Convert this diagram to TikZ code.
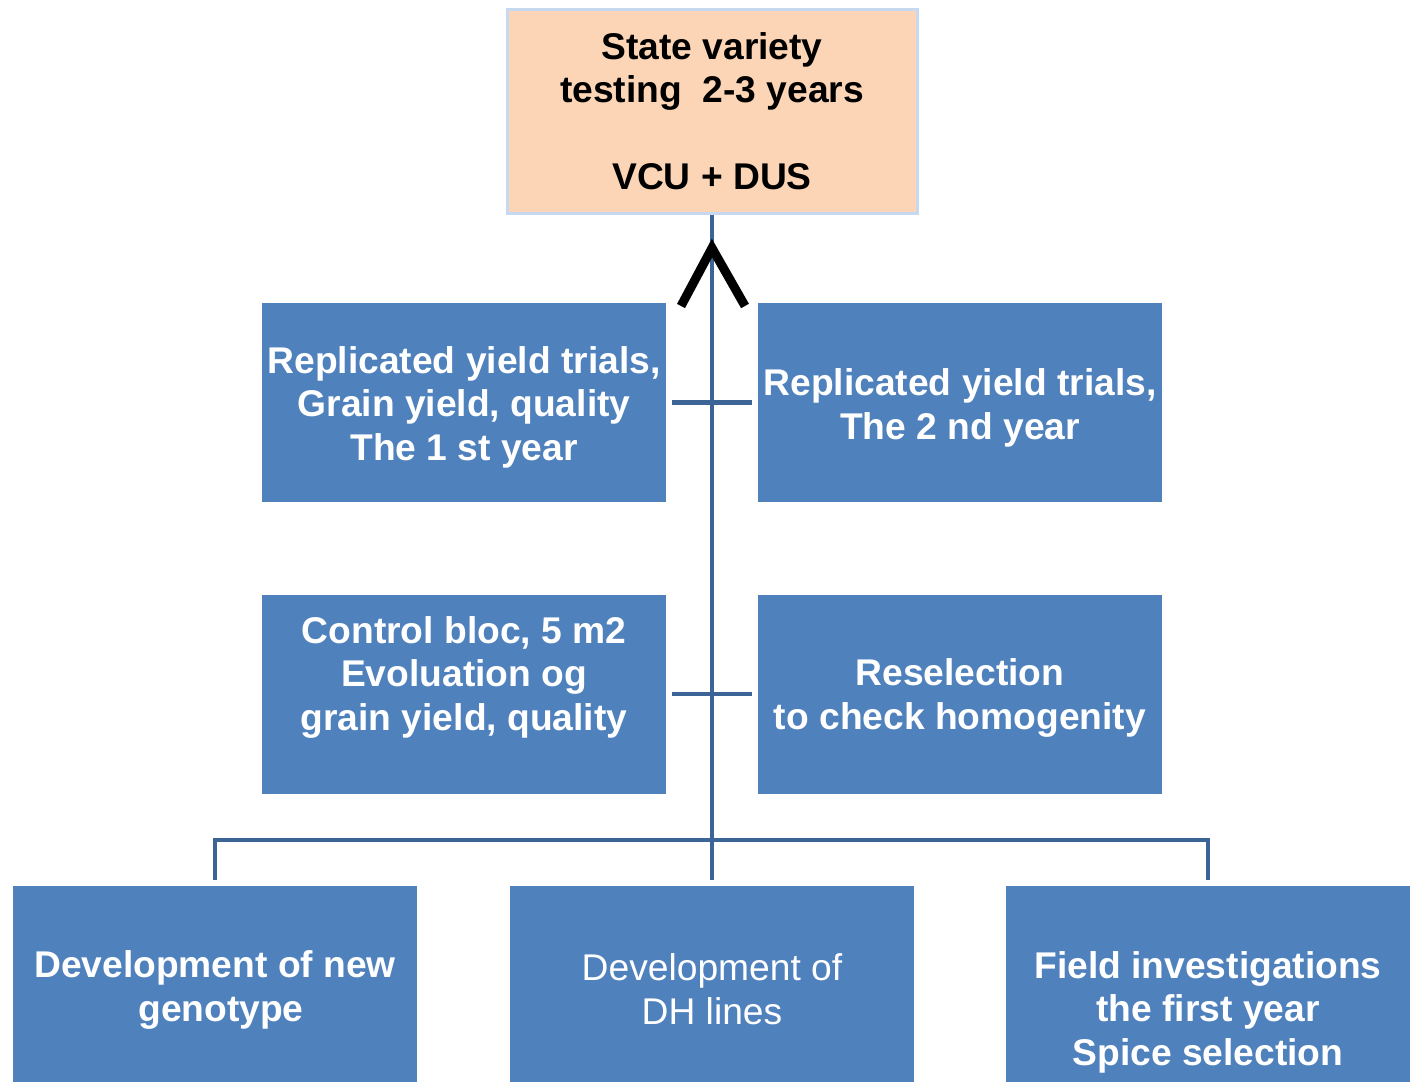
\documentclass[tikz,border=0pt]{standalone}
\usepackage{fontspec}
\setmainfont{Liberation Sans}
\definecolor{boxblue}{RGB}{79,129,189}
\definecolor{peach}{RGB}{251,213,181}
\definecolor{peachedge}{RGB}{198,217,241}
\definecolor{connblue}{RGB}{60,100,150}
\begin{document}
\begin{tikzpicture}[x=0.5pt,y=-0.5pt,
  bluebox/.style={fill=boxblue, draw=none, inner sep=0pt, minimum width=202pt, minimum height=99.5pt},
  topbox/.style={fill=peach, draw=peachedge, line width=1.5pt, inner sep=0pt, minimum width=205pt, minimum height=102pt},
  lbl/.style={inner sep=0pt, align=center, text=white, font=\fontsize{18.6}{21.75}\selectfont\bfseries},
  lblthin/.style={inner sep=0pt, align=center, text=white, font=\fontsize{18.6}{21.75}\selectfont},
  conn/.style={draw=connblue, line width=2.3pt},
  chev/.style={draw=black, line width=4.5pt, line join=miter}]
\useasboundingbox (0,0) rectangle (1418,1082);
% boxes
\node[topbox] (top) at (712,111.5) {};
\node[bluebox] (r1l) at (464,402.5) {};
\node[bluebox] (r1r) at (960,402.5) {};
\node[bluebox] (r2l) at (464,694) {};
\node[bluebox] (r2r) at (960,694) {};
\node[bluebox, minimum height=98pt] (b1) at (215,984) {};
\node[bluebox, minimum height=98pt] (b2) at (712,984) {};
\node[bluebox, minimum height=98pt] (b3) at (1208,984) {};
% connectors
\coordinate (bar) at (712,840);
\draw[conn] ([yshift=3pt]b2.north) -- (top.south);
\draw[conn] ([yshift=3pt]b1.north) |- (bar) -| ([yshift=3pt]b3.north);
\draw[conn] ([xshift=3pt]r1l.east) -- ([xshift=-3pt]r1r.west);
\draw[conn] ([xshift=3pt]r2l.east) -- ([xshift=-3pt]r2r.west);
\coordinate (tip) at (712,248);
\draw[chev] (681,306) -- (tip) -- (745,306);
% texts
\node[lbl, text=black] (ttop) at (712,111) {State variety\\testing\ \ 2-3 years\\[21.75pt]VCU + DUS};
\node[lbl] (tr1l) at (464,407) {Replicated yield trials,\\Grain yield, quality\\The 1 st year};
\node[lbl] (tr1r) at (960,408) {Replicated yield trials,\\The 2 nd year};
\node[lbl] (tr2l) at (464,677) {Control bloc, 5 m2\\Evoluation og\\grain yield, quality};
\node[lbl] (tr2r) at (960,698) {Reselection\\to check homogenity};
\node[lbl] (tb1) at (215,990) {Development of new\\\hspace*{6pt}genotype};
\node[lblthin] (tb2) at (712,989) {Development of\\DH lines};
\node[lbl] (tb3) at (1208,1012) {Field investigations\\the first year\\Spice selection};
\end{tikzpicture}
\end{document}
